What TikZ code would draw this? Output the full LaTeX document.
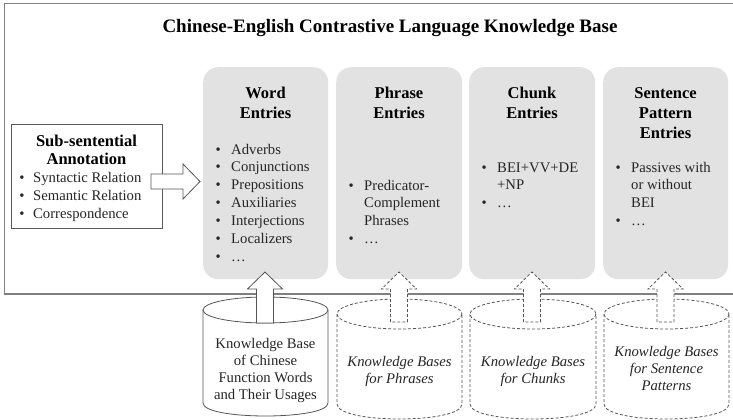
\documentclass[tikz,border=0pt]{standalone}
\usepackage{fontspec}
\setmainfont{Liberation Serif}
\usepackage{array}

\definecolor{framegray}{HTML}{808080}
\definecolor{boxgray}{HTML}{E2E2E2}
\definecolor{bordergray}{HTML}{5A5A5A}
\definecolor{arrowgray}{HTML}{555555}
\definecolor{textgray}{HTML}{262626}

\newcommand\titlefont{\fontsize{19}{22}\selectfont\bfseries}
\newcommand\headfont{\fontsize{16.5}{20}\selectfont\bfseries}
\newcommand\subheadfont{\fontsize{16.5}{18}\selectfont\bfseries}
\newcommand\itemfont{\fontsize{14.7}{17.9}\selectfont}
\newcommand\subitemfont{\fontsize{14.7}{18}\selectfont}
\newcommand\kbfont{\fontsize{14.7}{17.2}\selectfont}

% upward block arrow: #1 style, #2 centre x, #3 tip y, #4 shaft bottom y
\newcommand\blockup[4]{%
  \path[#1] (#2-8.5,#4) -- (#2-8.5,#3+17) -- (#2-17.5,#3+17) -- (#2,#3)
    -- (#2+17.5,#3+17) -- (#2+8.5,#3+17) -- (#2+8.5,#4) -- cycle;}

% cylinder: #1 style, #2 centre x, #3 top y, #4 bottom y, #5 x radius, #6 y radius
\newcommand\kbcyl[6]{%
  \path[#1] (#2-#5,#3) -- (#2-#5,#4)
    .. controls (#2-#5,#4+1.3333*#6) and (#2+#5,#4+1.3333*#6) .. (#2+#5,#4)
    -- (#2+#5,#3);
  \path[#1] (#2,#3) ellipse[x radius=#5, y radius=#6];}

\tikzset{
  kbframe/.style={draw=framegray, line width=1.3pt},
  entrybox/.style={fill=boxgray, rounded corners=15pt, inner sep=0pt,
    anchor=north west, minimum width=#1, minimum height=212pt},
  annot/.style={draw=bordergray, line width=0.9pt, fill=white, inner sep=0pt,
    anchor=north west, minimum width=151pt, minimum height=104pt},
  hollow/.style={draw=arrowgray, line width=0.8pt, fill=white, line join=miter},
  dashedge/.style={draw=arrowgray, line width=0.8pt, fill=white,
    dash pattern=on 3pt off 2pt},
  solidcyl/.style={draw=arrowgray, line width=0.8pt, fill=white},
  headtxt/.style={font=\headfont, text=black, inner sep=0pt, anchor=base},
  itemtxt/.style={font=\itemfont, text=textgray, inner sep=0pt, anchor=base west},
  kbtxt/.style={font=\kbfont, text=textgray, inner sep=0pt, anchor=base},
}

\begin{document}
\begin{tikzpicture}[x=1pt, y=-1pt]
\useasboundingbox (0,0) rectangle (733,420);
\clip (0,0) rectangle (733,420);
\fill[white] (0,0) rectangle (733,420);

% outer knowledge base frame (runs off the right edge)
\draw[kbframe] (4.5,3.5) rectangle (760,294);
\node[font=\titlefont, text=black, inner sep=0pt, anchor=base] (title) at (390,32.5)
  {Chinese-English Contrastive Language Knowledge Base};

% entry boxes
\node[entrybox=125pt] (wordbox) at (203,67) {};
\node[entrybox=126pt] (phrasebox) at (336,67) {};
\node[entrybox=126pt] (chunkbox) at (469,67) {};
\node[entrybox=125pt] (sentbox) at (603,67) {};

\node[headtxt] (wordhead) at (265.5,98)
  {\begin{tabular}[t]{@{}c@{}}Word\\Entries\end{tabular}};
\node[headtxt] (phrasehead) at (399,98)
  {\begin{tabular}[t]{@{}c@{}}Phrase\\Entries\end{tabular}};
\node[headtxt] (chunkhead) at (532,98)
  {\begin{tabular}[t]{@{}c@{}}Chunk\\Entries\end{tabular}};
\node[headtxt] (senthead) at (665.5,98)
  {\begin{tabular}[t]{@{}c@{}}Sentence\\Pattern\\Entries\end{tabular}};

\node[itemtxt] (worditems) at (215.4,154)
  {\begin{tabular}[t]{@{}p{15.6pt}@{}l@{}}
   \textbullet & Adverbs\\ \textbullet & Conjunctions\\ \textbullet & Prepositions\\
   \textbullet & Auxiliaries\\ \textbullet & Interjections\\ \textbullet & Localizers\\
   \textbullet & \dots\end{tabular}};
\node[itemtxt] (phraseitems) at (348.4,190)
  {\begin{tabular}[t]{@{}p{15.6pt}@{}l@{}}
   \textbullet & Predicator-\\ & Complement\\ & Phrases\\ \textbullet & \dots\end{tabular}};
\node[itemtxt] (chunkitems) at (481.4,172)
  {\begin{tabular}[t]{@{}p{15.6pt}@{}l@{}}
   \textbullet & BEI+VV+DE\\ & +NP\\ \textbullet & \dots\end{tabular}};
\node[itemtxt] (sentitems) at (615.4,172)
  {\begin{tabular}[t]{@{}p{15.6pt}@{}l@{}}
   \textbullet & Passives with\\ & or without\\ & BEI\\ \textbullet & \dots\end{tabular}};

% sub-sentential annotation box
\node[annot] (annotbox) at (11,124) {};
\node[font=\subheadfont, text=black, inner sep=0pt, anchor=base] (annothead) at (86.5,146)
  {\begin{tabular}[t]{@{}c@{}}Sub-sentential\\Annotation\end{tabular}};
\node[font=\subitemfont, text=textgray, inner sep=0pt, anchor=base west] (annotitems) at (19.1,182.5)
  {\begin{tabular}[t]{@{}p{13.9pt}@{}l@{}}
   \textbullet & Syntactic Relation\\ \textbullet & Semantic Relation\\
   \textbullet & Correspondence\end{tabular}};

% annotation feeds the word entries
\coordinate (harrowtail) at (151,181.5);
\coordinate (harrowtip) at (200,181.5);
\path[hollow] (harrowtail) ++(0,-7.5) -- (183,174) -- (183,164) -- (harrowtip)
  -- (183,199) -- (183,189) -- (151,189) -- cycle;

% knowledge bases below
\kbcyl{solidcyl}{265.5}{310}{403}{62.5}{13}
\kbcyl{dashedge}{399.5}{314}{404}{62.5}{15}
\kbcyl{dashedge}{533}{314}{404}{63}{15}
\kbcyl{dashedge}{666.5}{314}{404}{62.5}{15}

\blockup{hollow}{265}{272}{323}
\blockup{dashedge}{399}{272}{322}
\blockup{dashedge}{532}{272}{322}
\blockup{dashedge}{665.5}{272}{322}

\node[kbtxt] (fwkb) at (265.5,348)
  {\begin{tabular}[t]{@{}c@{}}Knowledge Base\\of Chinese\\Function Words\\and Their Usages\end{tabular}};
\node[kbtxt] (phrasekb) at (399.5,366)
  {\begin{tabular}[t]{@{}c@{}}\itshape Knowledge Bases\\\itshape for Phrases\end{tabular}};
\node[kbtxt] (chunkkb) at (533,366)
  {\begin{tabular}[t]{@{}c@{}}\itshape Knowledge Bases\\\itshape for Chunks\end{tabular}};
\node[kbtxt] (sentkb) at (666.5,356)
  {\begin{tabular}[t]{@{}c@{}}\itshape Knowledge Bases\\\itshape for Sentence\\\itshape Patterns\end{tabular}};
\end{tikzpicture}
\end{document}
